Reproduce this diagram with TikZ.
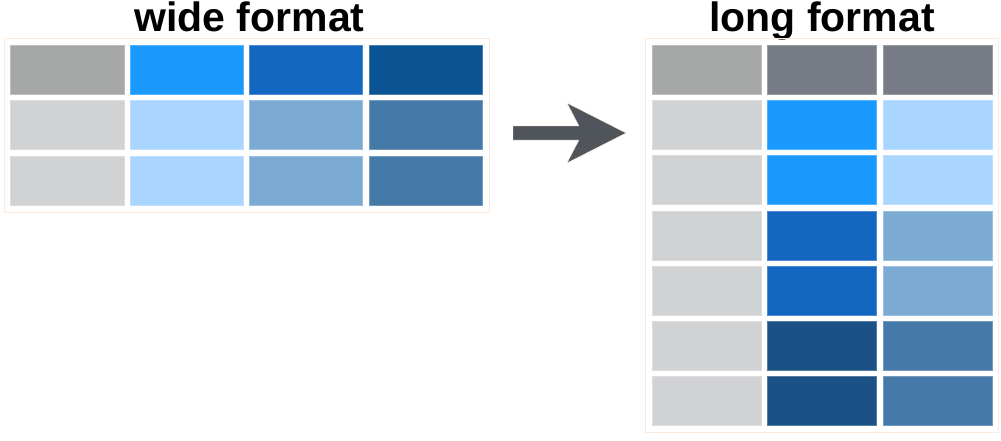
\documentclass[tikz,border=0pt]{standalone}
\usepackage{fontspec}
\setmainfont{Liberation Sans}
\definecolor{hdrgray}{HTML}{A6A8A7}
\definecolor{ltgray}{HTML}{D1D2D4}
\definecolor{bblue}{HTML}{1A9AFF}
\definecolor{mblue}{HTML}{1366BF}
\definecolor{dblue}{HTML}{0B5493}
\definecolor{lblue}{HTML}{A9D5FE}
\definecolor{mlblue}{HTML}{7BAAD3}
\definecolor{sblue}{HTML}{457AA8}
\definecolor{slate}{HTML}{767B85}
\definecolor{ldblue}{HTML}{1C5185}
\definecolor{frame}{HTML}{FCEBDC}
\definecolor{arrowc}{HTML}{50555C}
\tikzset{
  cellw/.style={fill=#1, draw=#1!75!white, line width=0.7pt, inner sep=0, outer sep=0,
    minimum width=113.3pt, minimum height=49pt, anchor=north west},
  celll/.style={fill=#1, draw=#1!75!white, line width=0.7pt, inner sep=0, outer sep=0,
    minimum width=109pt, minimum height=49pt, anchor=north west},
  tbl/.style={draw=frame, line width=0.9pt},
  ttl/.style={font=\fontsize{41}{41}\selectfont\bfseries, anchor=base, inner sep=0}
}
\begin{document}
\begin{tikzpicture}[x=1pt,y=-1pt]
\useasboundingbox (0,0) rectangle (1001,440);
% titles
\node[ttl] (twide) at (249.5,31) {wide format};
\node[ttl] (tlong) at (822,31) {long format};
% frames
\draw[tbl] (4,38) rectangle (489,212);
\draw[tbl] (645,38) rectangle (998,432);
% wide table
\foreach \c/\x/\ca/\cb/\cc in {1/10.7/hdrgray/ltgray/ltgray, 2/130/bblue/lblue/lblue, 3/249.3/mblue/mlblue/mlblue, 4/369/dblue/sblue/sblue}{
  \node[cellw=\ca] (w-1-\c) at (\x,45) {};
  \node[cellw=\cb] (w-2-\c) at (\x,100.5) {};
  \node[cellw=\cc] (w-3-\c) at (\x,156) {};
}
% long table
\foreach \r/\y/\ca/\cb/\cc in {1/45/hdrgray/slate/slate, 2/100.3/ltgray/bblue/lblue, 3/155.6/ltgray/bblue/lblue, 4/210.9/ltgray/mblue/mlblue, 5/266.2/ltgray/mblue/mlblue, 6/321.5/ltgray/ldblue/sblue, 7/376.8/ltgray/ldblue/sblue}{
  \node[celll=\ca] (l-\r-1) at (652,\y) {};
  \node[celll=\cb] (l-\r-2) at (767.5,\y) {};
  \node[celll=\cc] (l-\r-3) at (883,\y) {};
}
% block arrow
\coordinate (as) at (513,133);
\coordinate (at) at (626,133);
\fill[arrowc, draw=frame, line width=0.4pt]
  (513,126) -- (579,126) -- (567,103) -- (at) -- (567,163) -- (579,140) -- (513,140) -- cycle;
\end{tikzpicture}
\end{document}
